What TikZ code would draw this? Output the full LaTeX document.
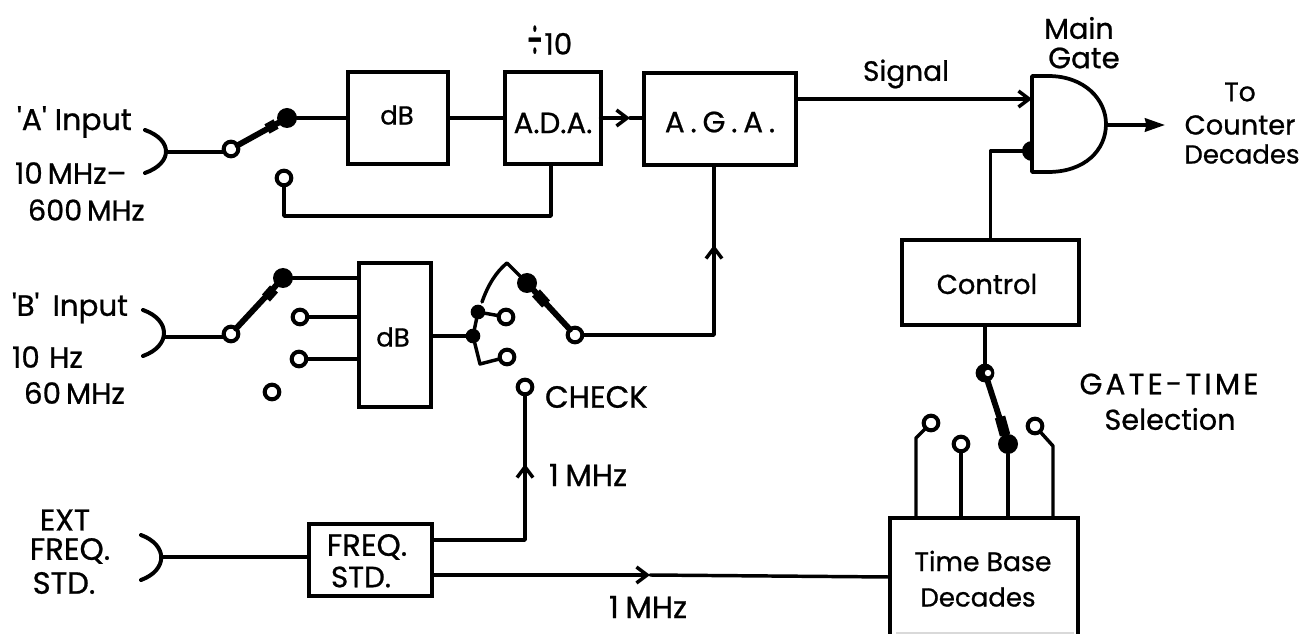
\documentclass[tikz,border=0pt]{standalone}
\usepackage{fontspec}
\setmainfont[Ligatures=TeXOff,FakeBold=0.8]{Poppins}
\usetikzlibrary{arrows.meta,fit,calc}
\newcommand\fz[1]{\fontsize{#1}{#1}\selectfont}
\newcommand\ls[1]{\addfontfeatures{LetterSpace=#1}}
\tikzset{
  blk/.style={draw,line width=2.8pt,inner sep=0pt,outer sep=0pt,line join=miter},
  wire/.style={line width=2.6pt,line cap=round,line join=round},
  arm/.style={line width=4.4pt,line cap=round},
  openc/.style={circle,draw,fill=white,line width=3pt,minimum size=11pt,inner sep=0pt,outer sep=0pt},
  fillc/.style={circle,fill=black,minimum size=15pt,inner sep=0pt,outer sep=0pt},
  joint/.style={circle,fill=black,minimum size=11pt,inner sep=0pt,outer sep=0pt},
  lab/.style={inner sep=0pt,outer sep=0pt,font=\fz{21}},
  barb/.style={-{Straight Barb[length=8pt,width=12pt,line width=2.6pt]}},
  solidtip/.style={-{Stealth[length=15pt,width=10pt,inset=1pt]}},
}
\begin{document}
\begin{tikzpicture}[x=0.75pt,y=-0.75pt]
\useasboundingbox (0,0) rectangle (1302,634);
\fill[white] (0,0) rectangle (1302,634);
% boxes
\node[blk,fit={(348,72)(448,164)}] (dbA) {};
\node[blk,fit={(505,72)(601,164)}] (ada) {};
\node[blk,fit={(644,73)(796,165)}] (aga) {};
\node[blk,fit={(359,263)(431,407)}] (dbB) {};
\node[blk,fit={(902,240)(1079,325)}] (ctl) {};
\node[blk,fit={(309,524)(432,596)}] (frq) {};
\node[inner sep=0pt,outer sep=0pt,fit={(890,518)(1078,634)}] (tbd) {};
\draw[line width=2.8pt,line join=miter] (tbd.south west) -- (tbd.north west) -- (tbd.north east) -- (tbd.south east);
\draw[black!15,line width=1pt] (tbd.south west) ++(6,-1) -- ++(178,0);
% box texts
\node[lab,font=\fz{19.5}] (tdbA) at (397,115) {dB};
\node[lab,font=\fz{22}] (tada) at (553,123) {A.D.A.};
\node[lab,font=\fz{22}\ls{20}] (taga) at (720,122) {A.G.A.};
\node[lab,font=\fz{19.5}] (tdbB) at (393,337) {dB};
\node[lab,font=\fz{20.5}] (tctl) at (987,284) {Control};
\node[lab,font=\fz{23}] (tfrq) at (367,547) {FREQ.};
\node[lab,font=\fz{22}] (tstd) at (361,577) {STD.};
\node[lab,font=\fz{20}] (ttb) at (983,561) {Time Base};
\node[lab,font=\fz{19.5}] (tdc) at (978,597) {Decades};
% input jacks
\coordinate (jA) at (166,152);
\coordinate (jB) at (164,337);
\coordinate (jE) at (161,557);
\draw[wire,line width=3pt] (145,130) .. controls (173,140) and (173,163) .. (145,173);
\draw[wire,line width=3pt] (143,310) .. controls (171,320) and (171,346) .. (143,356);
\draw[wire,line width=3pt] (141,535) .. controls (168,545) and (168,570) .. (141,580);
% A path
\node[openc] (swA) at (231,149) {};
\node[fillc] (onA) at (287,118) {};
\node[openc] (chA) at (284,178) {};
\draw[wire] (jA) -- (jA -| swA.west);
\draw[arm] (swA) -- (onA);
\draw[line width=8pt] (267,129) -- (276,124);
\draw[wire] (onA) -- (onA -| dbA.west);
\draw[wire] (onA -| dbA.east) -- (onA -| ada.west);
\coordinate (ar1) at (630,118);
\draw[wire,line width=3.2pt,barb] (onA -| ada.east) -- (ar1);
\draw[wire] (ar1) -- (ar1 -| aga.west);
\coordinate (ret) at (551,216);
\draw[wire] (chA) -- (chA |- ret) -- (ret) -- (ret |- ada.south);
% B path
\node[openc] (swB) at (231,334) {};
\node[fillc] (onB) at (283,278) {};
\node[openc] (b2) at (300,317) {};
\node[openc] (b3) at (299,359) {};
\node[openc] (b4) at (272,392) {};
\draw[wire] (jB) -- (jB -| swB.west);
\draw[arm] (swB) -- (onB);
\draw[line width=8pt] (266,298) -- (274,289);
\draw[wire] (onB) -- (onB -| dbB.west);
\draw[wire] (b2) -- (b2 -| dbB.west);
\draw[wire] (b3) -- (b3 -| dbB.west);
% range switch right of dB
\node[joint] (j1) at (473,336) {};
\node[joint] (j2) at (478,312) {};
\node[openc] (c1) at (506,317) {};
\node[openc] (c2) at (507,357) {};
\node[openc] (swR) at (575,335) {};
\node[fillc] (onR) at (527,283) {};
\coordinate (apex) at (507,263);
\coordinate (low) at (480,364);
\draw[wire] (j1 -| dbB.east) -- (j1);
\draw[wire] (j1) -- (j2) -- (c1);
\draw[wire] (j1) -- (low) -- (c2);
\draw[wire] (482,302) .. controls (488,285) and (496,272) .. (apex) -- (onR);
\draw[arm] (onR) -- (swR);
\draw[line width=8pt] (536,293) -- (546,304);
% to AGA
\coordinate (ar2) at (714,245);
\draw[wire] (swR) -- (swR -| ar2) -- (ar2 |- aga.south);
\draw[wire,barb] (714,270) -- (ar2);
% Signal and gate
\draw[line width=2.8pt,line join=round] (1032,76) -- (1048,76) .. controls (1085,76) and (1106,100) .. (1106,124) .. controls (1106,150) and (1085,172) .. (1048,172) -- (1032,172) -- cycle;
\coordinate (gsig) at (1032,99);
\coordinate (gctl) at (1032,151);
\coordinate (gout) at (1106,125);
\coordinate (outend) at (1165,125);
\draw[wire,barb] (gsig -| aga.east) -- (gsig);
\fill (gctl) ++(0,10) arc (90:270:10) -- cycle;
\draw[wire] (ctl.north) -- (ctl.north |- gctl) -- (gctl);
\draw[wire,solidtip] (gout) -- (outend);
% gate-time switch
\node[openc,fill=white] (swG) at (985,373) {};
\fill (985,373) circle (9);
\fill[white] (988,373) circle (3.2);
\node[fillc] (onG) at (1008,444) {};
\node[openc] (g1) at (931,423) {};
\node[openc] (g2) at (961,444) {};
\node[openc] (g4) at (1035,426) {};
\draw[wire] (ctl.south -| swG) -- (swG);
\draw[arm] (swG) -- (onG);
\draw[line width=8pt] (1000,417) -- (1005,435);
\coordinate (g1k) at (916,438);
\coordinate (g4k) at (1053,446);
\draw[wire] (g1) -- (g1k) -- (g1k |- tbd.north);
\draw[wire] (g2) -- (g2 |- tbd.north);
\draw[wire] (onG) -- (onG |- tbd.north);
\draw[wire] (g4) -- (g4k) -- (g4k |- tbd.north);
% frequency standard
\draw[wire] (jE) -- (jE -| frq.west);
\node[openc] (chk) at (525,387) {};
\coordinate (fu) at (432,540);
\coordinate (fl) at (432,575);
\coordinate (ar3) at (525,464);
\coordinate (ar4) at (650,575);
\draw[wire] (fu) -- (fu -| chk) -- (chk);
\draw[wire,barb] (525,490) -- (ar3);
\draw[wire,barb] (fl) -- (ar4);
\draw[wire] (ar4) -- (tbd.west |- 0,577);
% labels
\node[lab,font=\fz{22.5},anchor=west] (lA1) at (17,122) {'A' Input};
\node[lab,font=\fz{22},anchor=west] (lA2) at (15,173) {10\,MHz–};
\node[lab,font=\fz{21.5},anchor=west] (lA3) at (28,210) {600\,MHz};
\node[lab,font=\fz{22},anchor=west] (lB1) at (12,308) {'B'\hspace{10pt}Input};
\node[lab,font=\fz{22},anchor=west] (lB2) at (12,357) {10\hspace{7pt}Hz};
\node[lab,font=\fz{22},anchor=west] (lB3) at (24,393) {60\,MHz};
\node[lab,font=\fz{22.5}] (lE1) at (65,520) {EXT};
\node[lab,font=\fz{23}] (lE2) at (70,551) {FREQ.};
\node[lab,font=\fz{23}] (lE3) at (64,583) {STD.};
\node[lab,font=\fz{23},anchor=west] (lchk) at (545,397) {CHECK};
\node[lab,font=\fz{23},anchor=west] (l1m) at (549,475) {1\hspace{5pt}MHz};
\node[lab,font=\fz{23},anchor=west] (l1n) at (609,607) {1\hspace{5pt}MHz};
\node[lab,font=\fz{22},anchor=west] (ldiv) at (527,42) {\raisebox{-3pt}{\scalebox{0.8}[1.75]{÷}}\hspace{1.5pt}10};
\node[lab] (lsig) at (906,74) {Signal};
\node[lab,font=\fz{21.5}] (lmain) at (1079,28) {Main};
\node[lab,font=\fz{22}] (lgate) at (1084,58) {Gate};
\node[lab,font=\fz{20}] (lto) at (1240,92) {To};
\node[lab,font=\fz{20.5}] (lcnt) at (1240,125) {Counter};
\node[lab,font=\fz{19.5}] (ldec) at (1242,154) {Decades};
\node[lab,font=\fz{22}\ls{11}] (lgt) at (1169,384) {GATE-TIME};
\node[lab,font=\fz{21.5}] (lsel) at (1170,419) {Selection};
\end{tikzpicture}
\end{document}
